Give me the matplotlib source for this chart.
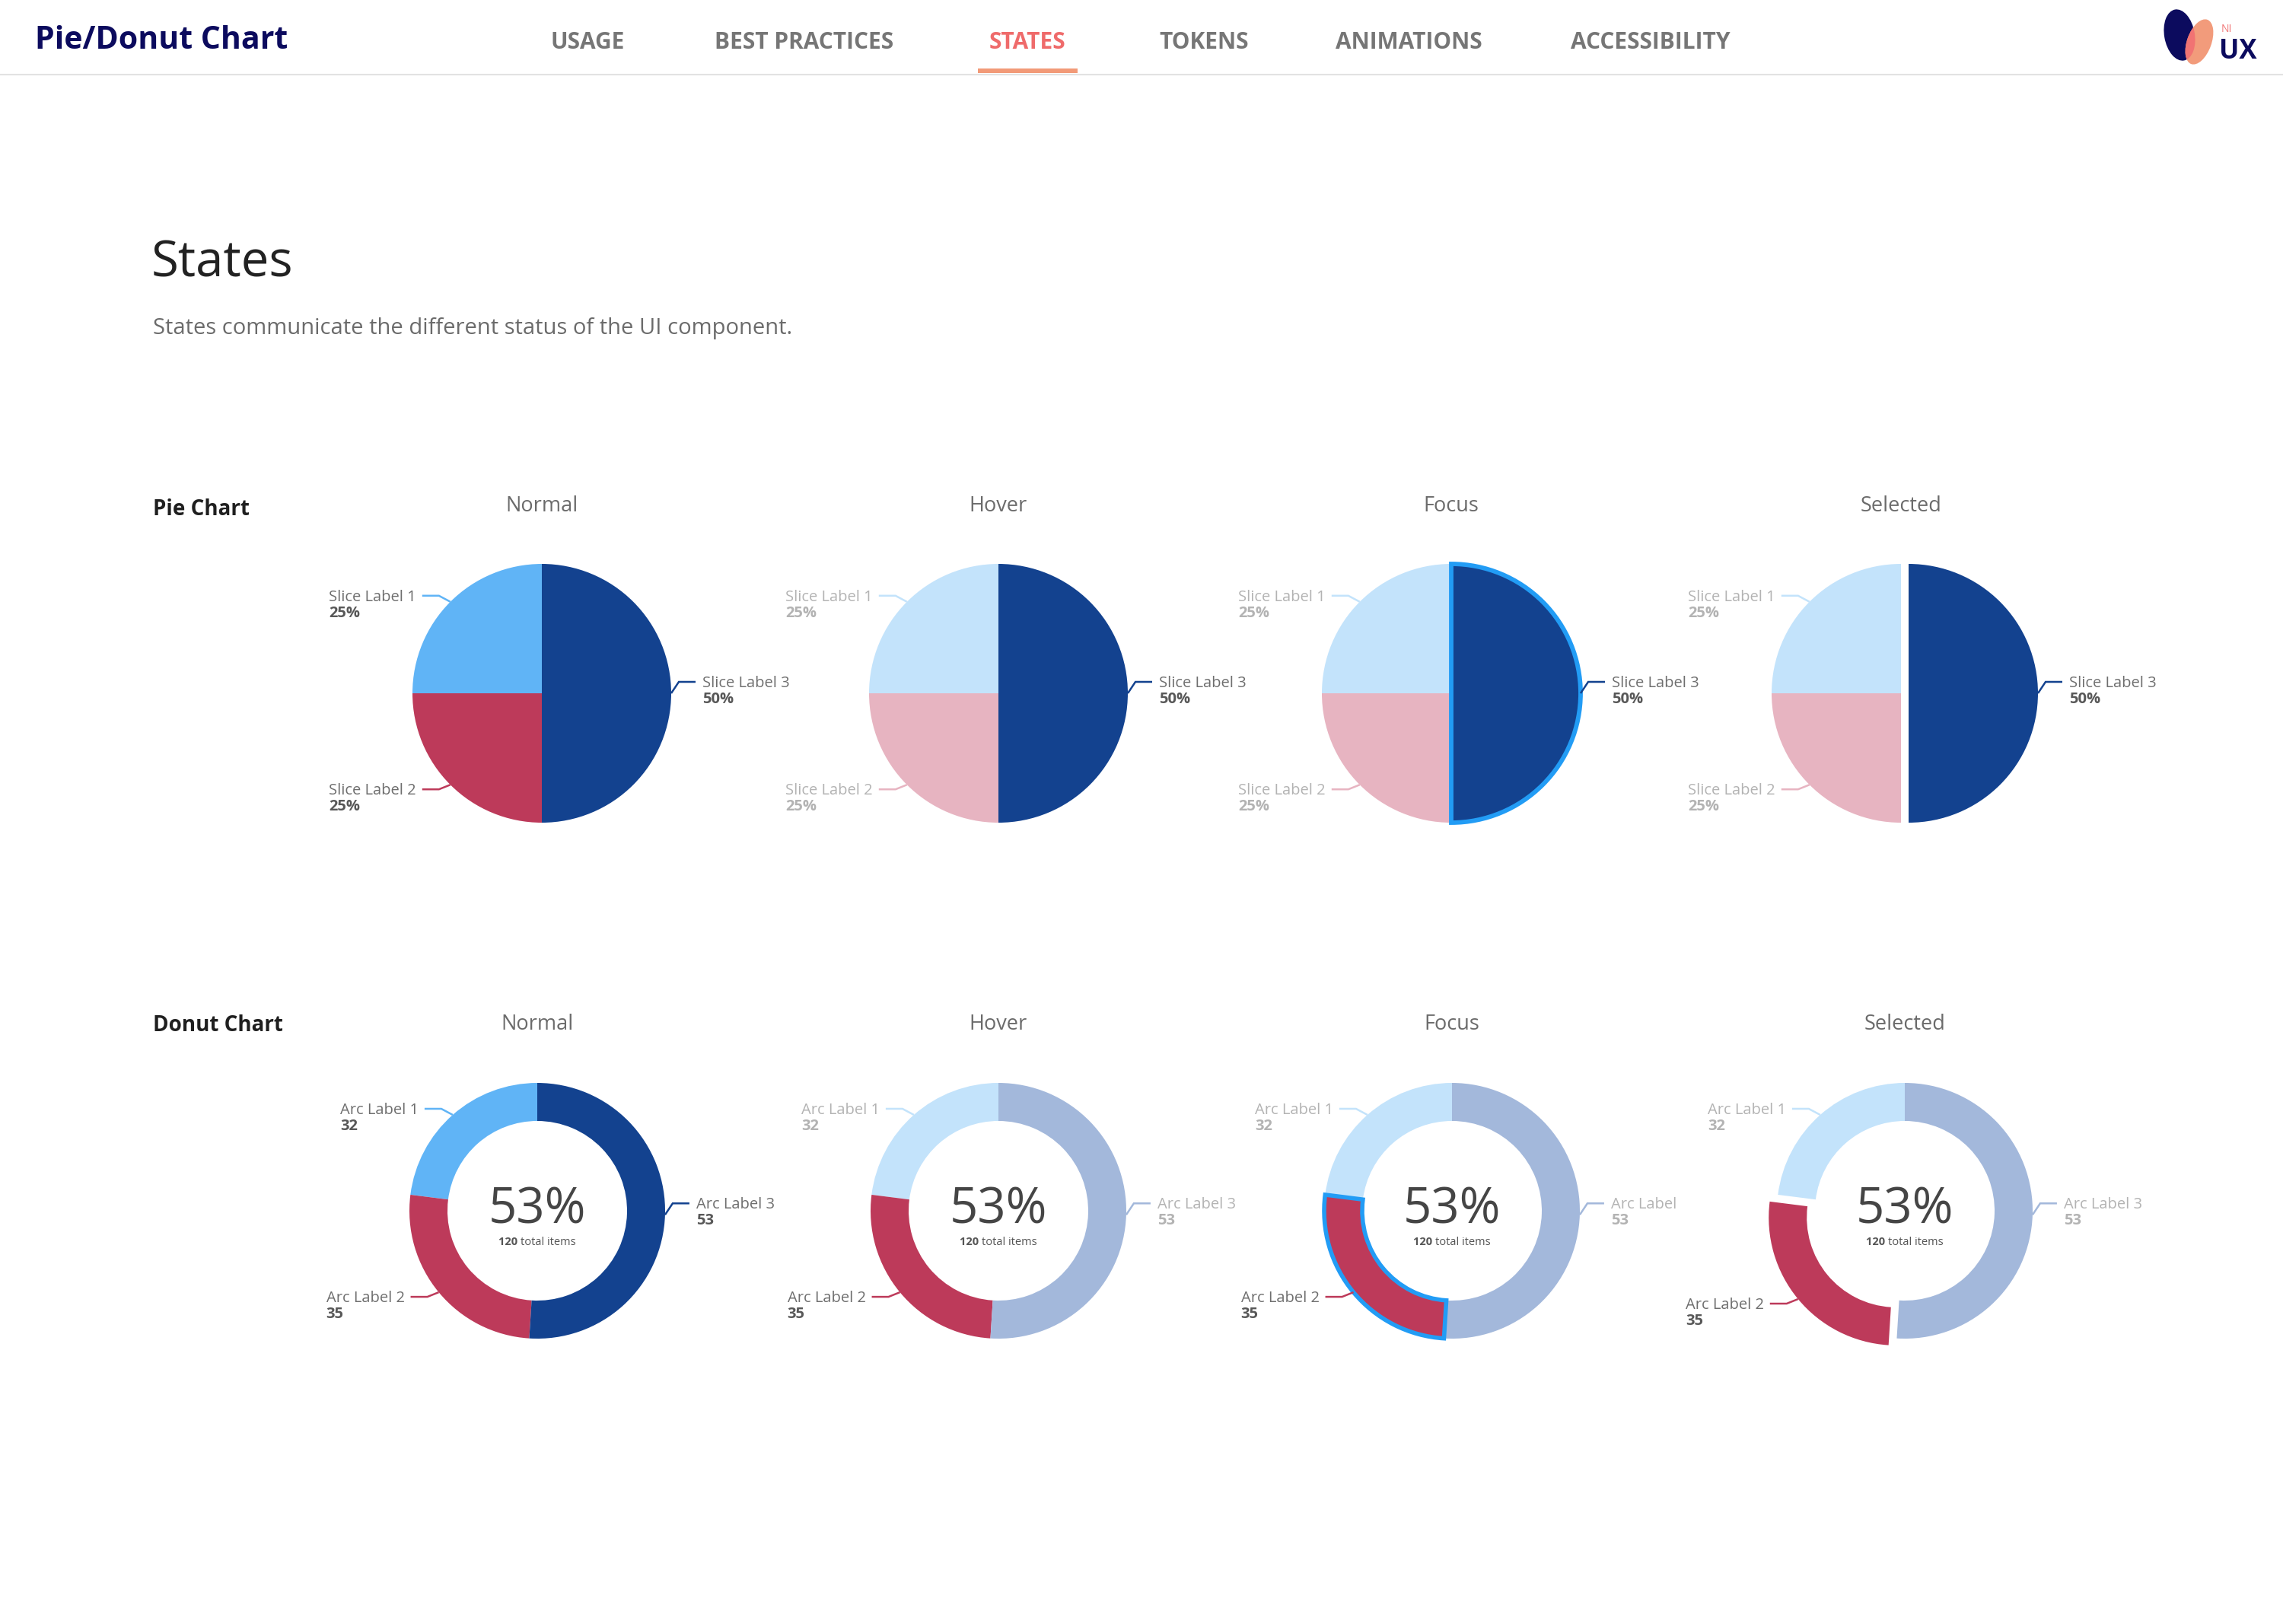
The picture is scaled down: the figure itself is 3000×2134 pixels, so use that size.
import matplotlib
matplotlib.use("Agg")
import matplotlib.pyplot as plt
from matplotlib.patches import Rectangle, Ellipse
import numpy as np

W, H = 3000, 2134

# page texts
page_title = "Pie/Donut Chart"
nav_items = ["USAGE", "BEST PRACTICES", "STATES", "TOKENS", "ANIMATIONS", "ACCESSIBILITY"]
active_nav = "STATES"
section_title = "States"
section_text = "States communicate the different status of the UI component."
states = ["Normal", "Hover", "Focus", "Selected"]

# pie data
slice_labels = ["Slice Label 1", "Slice Label 2", "Slice Label 3"]
slice_values = [25, 25, 50]

# donut data (ring shares, labels show counts)
arc_labels = ["Arc Label 1", "Arc Label 2", "Arc Label 3"]
arc_labels_focus = ["Arc Label 1", "Arc Label 2", "Arc Label"]
arc_counts = [32, 35, 53]
arc_shares = [23, 26, 51]
donut_percent = 53
donut_total = 120

# colours
NAVY = "#0c0b5e"
DARK = "#13428f"
LIGHT = "#60b4f6"
RED = "#bd3a5a"
F_LIGHT = "#c3e3fb"
F_RED = "#e7b4c1"
F_DARK = "#a3b8db"
FOCUS = "#229cf5"
TXT = "#6e6e6e"
TXT_B = "#585858"
TXT_F = "#b3b3b3"
FONT = ["Open Sans", "DejaVu Sans"]

plt.rcParams["font.family"] = FONT

fig = plt.figure(figsize=(W / 100, H / 100), dpi=100)
ax = fig.add_axes([0, 0, 1, 1])
rend = fig.canvas.get_renderer()


def Y(y):
    return H - y


def limits():
    ax.set_xlim(0, W)
    ax.set_ylim(0, H)


# ---- header ----
ax.text(46, Y(64), page_title, fontsize=29.5, fontweight="bold", color=NAVY, va="baseline")
nav_x = [772, 1057, 1350, 1582, 1851, 2169]
for name, x in zip(nav_items, nav_x):
    c = "#ef6b6b" if name == active_nav else "#767676"
    ax.text(x, Y(64), name, fontsize=21.5, fontweight="bold", color=c, ha="center", va="baseline")
ax.add_patch(Rectangle((1285, Y(96)), 131, 6, color="#f29a78", lw=0))
ax.plot([0, W], [Y(98), Y(98)], color="#e2e2e2", lw=1.5)

# logo
e1 = Ellipse((2864, Y(46)), 40, 68, angle=10, color=NAVY, lw=0)
e2 = Ellipse((2890, Y(55)), 32, 62, angle=-20, color="#f29b7b", lw=0)
e3 = Ellipse((2890, Y(55)), 32, 62, angle=-20, color="#f17373", lw=0)
for e in (e1, e2, e3):
    ax.add_patch(e)
e3.set_clip_path(e1)
ax.text(2919, Y(42), "NI", fontsize=10, color="#f07575", va="baseline")
ax.text(2916, Y(77), "UX", fontsize=25, fontweight="bold", color=NAVY, va="baseline")

# ---- section heading ----
ax.text(199, Y(363), section_title, fontsize=47, color="#222222", va="baseline")
ax.text(201, Y(439), section_text, fontsize=21, color="#6b6b6b", va="baseline")
ax.text(201, Y(677), "Pie Chart", fontsize=20, fontweight="bold", color="#1f1f1f", va="baseline")
ax.text(201, Y(1355), "Donut Chart", fontsize=20, fontweight="bold", color="#1f1f1f", va="baseline")


def draw_labels(wedges, r, colors, labels, vals, active):
    for i, w in enumerate(wedges):
        mid = np.deg2rad((w.theta1 + w.theta2) / 2)
        ccx, ccy = w.center
        ex, ey = ccx + r * np.cos(mid), ccy + r * np.sin(mid)
        sx = 1 if np.cos(mid) >= 0 else -1
        sy = 1 if np.sin(mid) > -0.2 else -1
        if sx > 0:
            kx, ky = ex + 10, ey + 15
        else:
            kx, ky = ex - 15, ey + (8 if sy > 0 else 6) * sy
        hx = kx + 22 * sx
        ax.plot([ex, kx, hx], [ey, ky, ky], color=colors[i], lw=1.8,
                solid_capstyle="butt", solid_joinstyle="miter", zorder=4)
        on = active is None or i == active
        tc = TXT if on else TXT_F
        vc = TXT_B if on else TXT_F
        base = ky - 7
        if sx < 0:
            t = ax.text(hx - 8, base, labels[i], fontsize=14.5, color=tc, ha="right", va="baseline")
            bb = t.get_window_extent(renderer=rend)
            x0 = ax.transData.inverted().transform((bb.x0, bb.y0))[0]
        else:
            x0 = hx + 9
            ax.text(x0, base, labels[i], fontsize=14.5, color=tc, ha="left", va="baseline")
        ax.text(x0, base - 21, vals[i], fontsize=14.5, fontweight="bold", color=vc,
                ha="left", va="baseline")


# ---- pies ----
pie_cx = [712, 1312, 1907, 2498]
pie_cy = 911
pie_r = 170
for k, st in enumerate(states):
    cx = pie_cx[k]
    ax.text(cx, Y(672), st, fontsize=19.5, color="#6b6b6b", ha="center", va="baseline")
    cols = [LIGHT, RED, DARK] if st == "Normal" else [F_LIGHT, F_RED, DARK]
    wedges, _ = ax.pie(slice_values, colors=cols, startangle=90, counterclock=True,
                       center=(cx, Y(pie_cy)), radius=pie_r, wedgeprops=dict(linewidth=0))
    limits()
    if st == "Focus":
        wedges[2].set_edgecolor(FOCUS)
        wedges[2].set_linewidth(4.2)
        wedges[2].set_zorder(3)
    if st == "Selected":
        w = wedges[2]
        mid = np.deg2rad((w.theta1 + w.theta2) / 2)
        w.set_center((cx + 10 * np.cos(mid), Y(pie_cy) + 10 * np.sin(mid)))
    active = None if st == "Normal" else 2
    draw_labels(wedges, pie_r, cols, slice_labels, [f"{v}%" for v in slice_values], active)

# ---- donuts ----
don_cx = [706, 1312, 1908, 2503]
don_cy = 1591
don_r = 168
for k, st in enumerate(states):
    cx = don_cx[k]
    ax.text(cx, Y(1353), st, fontsize=19.5, color="#6b6b6b", ha="center", va="baseline")
    cols = [LIGHT, RED, DARK] if st == "Normal" else [F_LIGHT, RED, F_DARK]
    wedges, _ = ax.pie(arc_shares, colors=cols, startangle=90, counterclock=True,
                       center=(cx, Y(don_cy)), radius=don_r,
                       wedgeprops=dict(linewidth=0, width=50))
    limits()
    if st == "Focus":
        wedges[1].set_edgecolor(FOCUS)
        wedges[1].set_linewidth(4.0)
        wedges[1].set_zorder(3)
    if st == "Selected":
        w = wedges[1]
        mid = np.deg2rad((w.theta1 + w.theta2) / 2)
        w.set_center((cx + 14 * np.cos(mid), Y(don_cy) + 14 * np.sin(mid)))
    labels = arc_labels_focus if st == "Focus" else arc_labels
    active = None if st == "Normal" else 1
    draw_labels(wedges, don_r, cols, labels, [str(v) for v in arc_counts], active)

    # centre text
    ax.text(cx, Y(don_cy + 17), f"{donut_percent}%", fontsize=47, color="#454545",
            ha="center", va="baseline")
    t1 = ax.text(0, 0, f"{donut_total} ", fontsize=10.5, fontweight="bold", color="#555555")
    t2 = ax.text(0, 0, "total items", fontsize=10.5, color="#555555")
    w1 = t1.get_window_extent(renderer=rend).width
    w2 = t2.get_window_extent(renderer=rend).width
    x0 = cx - (w1 + w2) / 2
    t1.set_position((x0, Y(don_cy + 45)))
    t2.set_position((x0 + w1, Y(don_cy + 45)))

limits()
ax.axis("off")
fig.savefig("out.png", dpi=100, facecolor="white")
